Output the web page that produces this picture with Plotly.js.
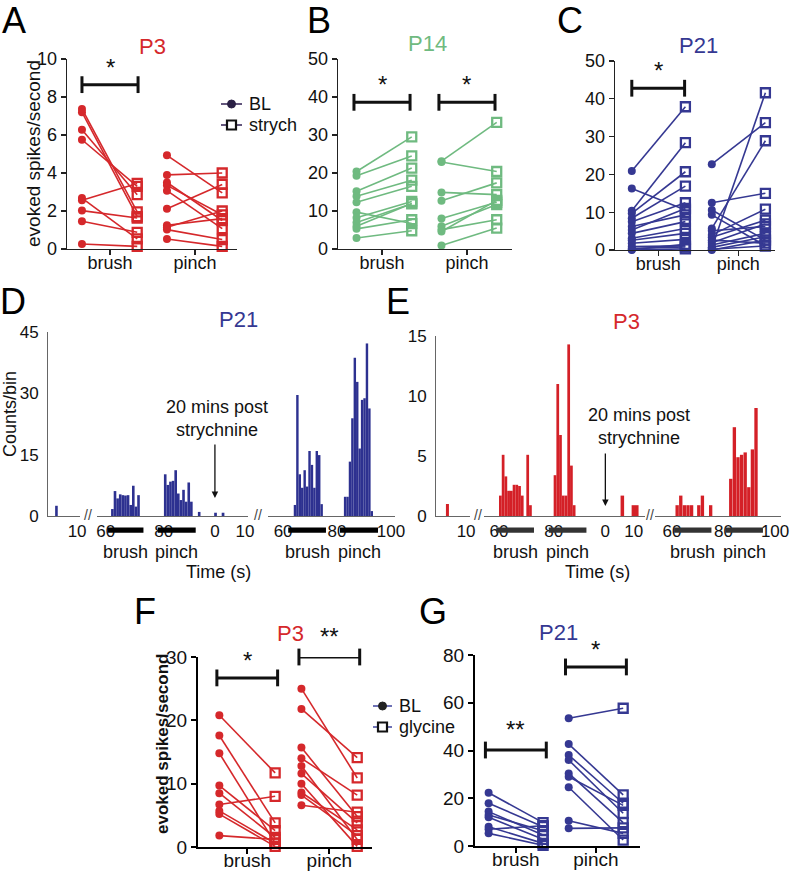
<!DOCTYPE html>
<html><head><meta charset="utf-8">
<script src="https://cdn.plot.ly/plotly-3.0.1.min.js"></script>
<style>html,body{margin:0;padding:0;background:#fff}</style>
</head><body><div id="chart" style="width:798px;height:874px"></div>
<script>
// ---------------- DATA ----------------
const conditions = ['brush', 'pinch'];

// Panel A: P3, baseline vs strychnine (evoked spikes/second)
const A_brushBL     = [7.37, 7.2, 6.28, 5.75, 2.68, 2.56, 2.02, 1.46, 0.26];
const A_brushStrych = [1.95, 1.7, 2.86, 3.3, 0.53, 3.45, 1.63, 0.88, 0.14];
const A_pinchBL     = [4.93, 3.9, 3.5, 3.35, 3.07, 2.12, 1.25, 1.15, 1.02, 0.53];
const A_pinchStrych = [2.95, 4.0, 1.5, 1.8, 1.07, 3.4, 1.6, 2.0, 0.5, 0.14];

// Panel B: P14
const B_brushBL     = [20.4, 19.3, 15.2, 13.9, 12.3, 9.7, 8.2, 7.0, 6.0, 5.3, 2.9];
const B_brushStrych = [29.5, 24.5, 21.3, 18.1, 16.5, 6.7, 12.5, 11.9, 12.0, 7.7, 4.8];
const B_pinchBL     = [23.1, 22.9, 14.9, 12.7, 8.0, 6.0, 5.1, 4.6, 0.9];
const B_pinchStrych = [33.3, 20.4, 14.3, 17.4, 12.3, 11.7, 7.7, 12.8, 5.5];

// Panel C: P21
const C_brushBL     = [20.9, 16.3, 10.4, 9.7, 8.4, 7.5, 6.2, 5.3, 4.4, 3.1, 2.6, 1.8, 0.9, 0.4, 0.1, 0];
const C_brushStrych = [37.9, 10.6, 28.4, 20.7, 16.9, 12.5, 9.3, 11.0, 7.5, 5.7, 4.4, 2.8, 1.1, 0.8, 1.5, 0.3];
const C_pinchBL     = [22.7, 0.5, 5.7, 12.5, 10.6, 9.3, 5.1, 4.0, 3.4, 2.6, 1.9, 1.3, 0.7, 0.2, 0];
const C_pinchStrych = [33.7, 41.6, 28.9, 15.0, 2.6, 1.1, 6.2, 10.8, 7.9, 1.8, 6.9, 4.4, 3.5, 1.1, 2.6];

// Panel F: P3, baseline vs glycine
const F_brushBL  = [20.8, 17.6, 14.8, 9.7, 8.5, 6.7, 5.7, 5.2, 1.8];
const F_brushGly = [11.7, 3.8, 0.6, 2.6, 1.5, 8.0, 0.6, 0.1, 1.2];
const F_pinchBL  = [25, 21.8, 15.7, 14, 12.8, 11.6, 10, 8.6, 8.2, 6.6];
const F_pinchGly = [10.9, 14.1, 4.8, 8.2, 1.2, 3.8, 0.1, 2.7, 1.8, 5.5];

// Panel G: P21, baseline vs glycine
const G_brushBL  = [22.3, 17.9, 14.4, 13.0, 12.0, 8.1, 7.0, 5.3];
const G_brushGly = [9.8, 8.1, 4.6, 6.4, 2.8, 1.1, 8.5, 0.3];
const G_pinchBL  = [53.5, 42.7, 38.1, 36.0, 30.4, 29.0, 24.6, 10.6, 7.4];
const G_pinchGly = [57.7, 21.4, 17.9, 13.7, 9.8, 17.0, 2.5, 5.3, 7.6];

// Significance brackets: condition index, bracket height, label
const A_sig = [{cond: 0, y: 8.65, text: '*'}];
const B_sig = [{cond: 0, y: 38.6, text: '*'}, {cond: 1, y: 38.6, text: '*'}];
const C_sig = [{cond: 0, y: 42.8, text: '*'}];
const F_sig = [{cond: 0, y: 26.7, text: '*'}, {cond: 1, y: 30, text: '**'}];
const G_sig = [{cond: 0, y: 40.2, text: '**'}, {cond: 1, y: 75, text: '*'}];

// Panel D: P21 PSTH (counts/bin), time in s
const D_preBase_t  = [2.9];
const D_preBase_n  = [2.5];
const D_preStim_t  = [62.3, 63.2, 64.1, 65.0, 65.9, 66.8, 67.7, 68.6, 69.5, 70.4, 71.3,
                      80.5, 81.4, 82.3, 83.2, 84.1, 85.0, 85.9, 86.8, 87.7, 88.6, 89.5, 92.2];
const D_preStim_n  = [1.7, 6.1, 4.3, 5.3, 5.1, 5.0, 5.1, 2.7, 7.4, 2.3, 5.1,
                      10.2, 7.6, 8.4, 8.6, 11.2, 5.5, 3.9, 6.4, 3.5, 8.2, 3.5, 1.0];
const D_postBase_t = [0.2, 2.7];
const D_postBase_n = [0.8, 0.8];
const D_postStim_t = [64.4, 65.3, 66.2, 67.1, 68.0, 68.9, 69.8, 70.7, 71.6, 72.5, 73.4, 74.3,
                      83.0, 83.9, 84.8, 85.7, 86.6, 87.5, 88.4, 89.3, 90.2, 91.1, 92.0, 92.9];
const D_postStim_n = [2.7, 29.6, 10.2, 6.9, 11.2, 7.2, 15.9, 12.5, 6.9, 15.9, 14.9, 2.9,
                      4.7, 4.7, 13.3, 23.9, 38.7, 32.8, 16.5, 28.4, 28.8, 42.2, 26.3, 1.2];
const D_preStimPeriods  = [{name: 'brush', t0: 60.7, t1: 73.0}, {name: 'pinch', t0: 77.9, t1: 91.0}];
const D_postStimPeriods = [{name: 'brush', t0: 61.9, t1: 75.9}, {name: 'pinch', t0: 81.1, t1: 95.2}];

// Panel E: P3 PSTH
const E_preBase_t  = [3.8];
const E_preBase_n  = [1.0];
const E_preStim_t  = [60.5, 61.5, 62.5, 63.5, 64.5, 65.5, 66.5, 67.5, 68.5, 69.5, 70.5, 71.5,
                      80.5, 81.5, 82.5, 83.5, 84.5, 85.5, 86.5, 87.5];
const E_preStim_n  = [1.7, 5.1, 3.3, 2.1, 2.1, 2.6, 2.6, 2.5, 1.7, 0, 5.1, 0.9,
                      3.4, 11.0, 6.75, 1.7, 1.7, 14.3, 4.2, 0.9];
const E_postBase_t = [6.0, 9.9, 11.1];
const E_postBase_n = [1.7, 0.9, 0.9];
const E_postStim_t = [62.0, 63.4, 64.8, 66.2, 67.6, 70.4, 71.8, 75.0,
                      82.8, 84.2, 85.6, 87.0, 88.4, 89.8, 91.2, 92.6];
const E_postStim_n = [0.9, 1.7, 0.9, 0.9, 0.9, 0.9, 1.7, 0.9,
                      3.1, 7.4, 4.9, 5.1, 5.3, 2.4, 5.55, 9.0];
const E_preStimPeriods  = [{name: 'brush', t0: 59.0, t1: 72.8}, {name: 'pinch', t0: 78.2, t1: 92.0}];
const E_postStimPeriods = [{name: 'brush', t0: 60.8, t1: 75.3}, {name: 'pinch', t0: 80.7, t1: 95.3}];

// ---------------- STYLE / LAYOUT ----------------
const W = 798, H = 874;
const FONT = '"Liberation Sans", Arial, Helvetica, sans-serif';
const RED = '#d5282b', GREEN = '#6fba80', BLUE = '#353892', HIST_BLUE = '#2d3190', HIST_RED = '#d42027';
const px = p => p / W;
const py = p => 1 - p / H;

const layout = {
  width: W, height: H, margin: {l: 0, r: 0, t: 0, b: 0},
  paper_bgcolor: '#fff', plot_bgcolor: 'rgba(0,0,0,0)',
  showlegend: false, barmode: 'overlay', hovermode: false,
  font: {family: FONT, size: 18, color: '#111'},
  annotations: [], shapes: []
};
const traces = [];

function ann(o) {
  layout.annotations.push(Object.assign({showarrow: false, xanchor: 'center', yanchor: 'middle',
    font: {family: FONT, size: 18, color: '#111'}}, o));
}

// category panels
function catPanel(cfg) {
  const n = cfg.n, xk = 'xaxis' + n, yk = 'yaxis' + n, xr = 'x' + n, yr = 'y' + n;
  layout[xk] = {
    domain: [px(cfg.xd[0]), px(cfg.xd[1])], range: cfg.xr, anchor: yr,
    tickmode: 'array', tickvals: [0, 1], ticktext: conditions,
    showline: true, linecolor: cfg.axc, linewidth: cfg.lw, ticks: 'outside', ticklen: 5,
    tickwidth: cfg.lw, tickcolor: cfg.axc, showgrid: false, zeroline: false, ticklabelstandoff: cfg.xso,
    tickfont: {family: FONT, size: cfg.fs, color: '#111'}, fixedrange: true
  };
  layout[yk] = {
    domain: [py(cfg.yd[1]), py(cfg.yd[0])], range: cfg.yr, anchor: xr,
    tick0: 0, dtick: cfg.dt, showline: true, linecolor: cfg.axc, linewidth: cfg.lw,
    ticks: 'outside', ticklen: 5, tickwidth: cfg.lw, tickcolor: cfg.axc,
    showgrid: false, zeroline: false, tickfont: {family: FONT, size: cfg.fs, color: '#111'}, fixedrange: true
  };
  const lx = [], ly = [], bx = [], by = [], dx = [], dy = [];
  cfg.bl.forEach((arr, ci) => {
    const dr = cfg.dr[ci];
    arr.forEach((v, i) => {
      lx.push(ci + cfg.off[0], ci + cfg.off[1], null); ly.push(v, dr[i], null);
      bx.push(ci + cfg.off[0]); by.push(v);
      dx.push(ci + cfg.off[1]); dy.push(dr[i]);
    });
  });
  traces.push({type: 'scatter', mode: 'lines', x: lx, y: ly, xaxis: xr, yaxis: yr,
    line: {color: cfg.color, width: 1.6}, cliponaxis: false, connectgaps: false});
  traces.push({type: 'scatter', mode: 'markers', x: bx, y: by, xaxis: xr, yaxis: yr,
    marker: {symbol: 'circle', size: 8, color: cfg.color}, cliponaxis: false});
  traces.push({type: 'scatter', mode: 'markers', x: dx, y: dy, xaxis: xr, yaxis: yr,
    marker: {symbol: 'square-open', size: 9, color: cfg.color, line: {width: 2.3, color: cfg.color}}, cliponaxis: false});
  cfg.sig.forEach(s => {
    traces.push({type: 'scatter', mode: 'lines+markers', x: [s.cond - cfg.bh, s.cond + cfg.bh], y: [s.y, s.y],
      xaxis: xr, yaxis: yr, line: {color: '#111', width: 3},
      marker: {symbol: 'line-ns', size: 12, color: '#111', line: {width: 3, color: '#111'}}, cliponaxis: false});
    ann({xref: xr, yref: yr, x: s.cond, y: s.y, text: s.text, yanchor: 'bottom',
      yshift: s.text.length > 1 ? 5 : 2, font: {family: FONT, size: 24, color: '#111'}});
  });
  ann({xref: 'paper', yref: 'paper', x: px(cfg.title[1]), y: py(cfg.title[2]), text: cfg.title[0],
    font: {family: FONT, size: 22, color: cfg.color}});
}

catPanel({n: 1, xd: [67, 237], yd: [59, 249], xr: [-0.506, 1.494], yr: [0, 10], dt: 2, fs: 18, lw: 1.3, axc: '#222', xso: -8,
  off: [-0.33, 0.32], bh: 0.33, color: RED, bl: [A_brushBL, A_pinchBL], dr: [A_brushStrych, A_pinchStrych], sig: A_sig, title: ['P3', 152, 47]});
catPanel({n: 2, xd: [338, 512], yd: [59, 249], xr: [-0.518, 1.53], yr: [0, 50], dt: 10, fs: 18, lw: 1.3, axc: '#222', xso: -8,
  off: [-0.3, 0.35], bh: 0.33, color: GREEN, bl: [B_brushBL, B_pinchBL], dr: [B_brushStrych, B_pinchStrych], sig: B_sig, title: ['P14', 427, 43]});
catPanel({n: 3, xd: [615, 775], yd: [61, 250], xr: [-0.54, 1.46], yr: [0, 50], dt: 10, fs: 18, lw: 1.3, axc: '#222', xso: -8,
  off: [-0.33, 0.34], bh: 0.33, color: BLUE, bl: [C_brushBL, C_pinchBL], dr: [C_brushStrych, C_pinchStrych], sig: C_sig, title: ['P21', 698, 45]});
catPanel({n: 4, xd: [198, 372], yd: [657, 847], xr: [-0.6, 1.52], yr: [0, 30], dt: 10, fs: 19, lw: 2, axc: '#000', xso: -10,
  off: [-0.34, 0.34], bh: 0.37, color: RED, bl: [F_brushBL, F_pinchBL], dr: [F_brushGly, F_pinchGly], sig: F_sig, title: ['P3', 290, 633]});
catPanel({n: 5, xd: [475, 640], yd: [655, 846], xr: [-0.51, 1.55], yr: [0, 80], dt: 20, fs: 19, lw: 2, axc: '#000', xso: -10,
  off: [-0.34, 0.34], bh: 0.38, color: BLUE, bl: [G_brushBL, G_pinchBL], dr: [G_brushGly, G_pinchGly], sig: G_sig, title: ['P21', 558, 632]});

// y titles
ann({xref: 'paper', yref: 'paper', x: px(33), y: py(154), text: 'evoked spikes/second', textangle: -90,
  font: {family: FONT, size: 19, color: '#111'}});
ann({xref: 'paper', yref: 'paper', x: px(162), y: py(744), text: '<b>evoked spikes/second</b>', textangle: -90,
  font: {family: FONT, size: 17, color: '#111'}});

// histogram panels with broken x axis
function histPanel(cfg) {
  const yr = 'y' + cfg.yn;
  layout['yaxis' + cfg.yn] = {
    domain: [py(cfg.yd[1]), py(cfg.yd[0])], range: cfg.yrange, anchor: 'x' + cfg.segs[0].n,
    tickmode: 'array', tickvals: cfg.ytv, showline: true, linecolor: '#666', linewidth: 1,
    ticks: '', ticklabelstandoff: 5, showgrid: false, zeroline: false,
    tickfont: {family: FONT, size: 17, color: '#111'}, fixedrange: true
  };
  cfg.segs.forEach(s => {
    layout['xaxis' + s.n] = {
      domain: [px(s.d[0]), px(s.d[1])], range: s.r, anchor: yr,
      tickmode: 'array', tickvals: s.tv, ticktext: s.tv.map(String),
      showline: true, linecolor: '#666', linewidth: 1, ticks: '', ticklabelstandoff: 0,
      showgrid: false, zeroline: false, tickfont: {family: FONT, size: 17, color: '#111'}, fixedrange: true
    };
    traces.push({type: 'bar', x: s.t, y: s.v, width: s.w, xaxis: 'x' + s.n, yaxis: yr,
      marker: {color: cfg.color, line: {width: 0}}});
    (s.stim || []).forEach(p => {
      layout.shapes.push({type: 'rect', xref: 'x' + s.n, yref: 'paper', x0: p.t0, x1: p.t1,
        y0: py(532.7), y1: py(527.5), fillcolor: cfg.stimColor, line: {width: 0}});
      ann({xref: 'x' + s.n, yref: 'paper', x: (p.t0 + p.t1) / 2, y: py(551.5), text: p.name,
        font: {family: FONT, size: 18, color: '#111'}});
    });
  });
  cfg.breaks.forEach(b => ann({xref: 'paper', yref: 'paper', x: px(b), y: py(cfg.yd[1] - 1), text: '//',
    font: {family: FONT, size: 14, color: '#444'}}));
  ann({xref: 'paper', yref: 'paper', x: px(cfg.time[0]), y: py(cfg.time[1]), text: 'Time (s)'});
  ann({xref: 'paper', yref: 'paper', x: px(cfg.note[0]), y: py(cfg.note[1]), text: '20 mins post<br>strychnine',
    font: {family: FONT, size: 18, color: '#111'}});
  ann({xref: 'x' + cfg.arrow.axis, yref: 'paper', x: 0, y: py(cfg.arrow.tip), text: '', showarrow: true,
    ax: 0, ay: -(cfg.arrow.tip - cfg.arrow.tail), arrowhead: 2, arrowsize: 1, arrowwidth: 1.3, arrowcolor: '#111'});
  ann({xref: 'paper', yref: 'paper', x: px(cfg.title[1]), y: py(cfg.title[2]), text: cfg.title[0],
    font: {family: FONT, size: 22, color: cfg.titleColor}});
}

histPanel({yn: 6, yd: [332, 516], yrange: [0, 45], ytv: [0, 15, 30, 45], color: HIST_BLUE, stimColor: '#000',
  segs: [
    {n: 6, d: [48, 80], r: [0, 11], tv: [10], t: D_preBase_t, v: D_preBase_n, w: 0.9},
    {n: 7, d: [97, 205], r: [57.0, 94.2], tv: [60, 80], t: D_preStim_t, v: D_preStim_n, w: 0.9, stim: D_preStimPeriods},
    {n: 8, d: [205, 248], r: [-3.3, 11], tv: [0, 10], t: D_postBase_t, v: D_postBase_n, w: 0.9},
    {n: 9, d: [268, 395], r: [54.4, 101.5], tv: [60, 80, 100], t: D_postStim_t, v: D_postStim_n, w: 0.9, stim: D_postStimPeriods}
  ],
  breaks: [88, 258], time: [218, 572], note: [217, 418], arrow: {axis: 8, tip: 498, tail: 443},
  title: ['P21', 238, 320], titleColor: BLUE});

histPanel({yn: 10, yd: [336, 516], yrange: [0, 15], ytv: [0, 5, 10, 15], color: HIST_RED, stimColor: '#333',
  segs: [
    {n: 10, d: [436, 470], r: [0, 11.3], tv: [10], t: E_preBase_t, v: E_preBase_n, w: 1.0},
    {n: 11, d: [484, 596], r: [54.5, 95.5], tv: [60, 80], t: E_preStim_t, v: E_preStim_n, w: 1.0, stim: E_preStimPeriods},
    {n: 12, d: [596, 645], r: [-3.3, 14.0], tv: [0, 10], t: E_postBase_t, v: E_postBase_n, w: 1.25},
    {n: 13, d: [655, 781], r: [53.4, 102.3], tv: [60, 80, 100], t: E_postStim_t, v: E_postStim_n, w: 1.3, stim: E_postStimPeriods}
  ],
  breaks: [478, 650], time: [597, 572], note: [639, 426], arrow: {axis: 12, tip: 506, tail: 452},
  title: ['P3', 626, 321], titleColor: RED});

ann({xref: 'paper', yref: 'paper', x: px(10), y: py(414), text: 'Counts/bin', textangle: -90});

// legends (drawn)
function legend(x0, x1, yRows, labels, lineColor, markColor) {
  const xc = (x0 + x1) / 2;
  yRows.forEach((yy, i) => {
    layout.shapes.push({type: 'line', xref: 'paper', yref: 'paper', x0: px(x0), x1: px(x1), y0: py(yy), y1: py(yy),
      line: {color: lineColor, width: 1.6}});
    if (i === 0) {
      layout.shapes.push({type: 'circle', xref: 'paper', yref: 'paper', x0: px(xc - 4), x1: px(xc + 4), y0: py(yy + 4), y1: py(yy - 4),
        fillcolor: markColor, line: {color: markColor, width: 1}});
    } else {
      layout.shapes.push({type: 'rect', xref: 'paper', yref: 'paper', x0: px(xc - 4.5), x1: px(xc + 4.5), y0: py(yy + 4.5), y1: py(yy - 4.5),
        fillcolor: '#fff', line: {color: '#111', width: 2.2}});
    }
    ann({xref: 'paper', yref: 'paper', x: px(x1 + 5), y: py(yy), xanchor: 'left', text: labels[i]});
  });
}
legend(221, 242, [104, 125], ['BL', 'strych'], '#3d2c5c', '#2a2045');
legend(373, 392, [706, 727], ['BL', 'glycine'], '#4a4fa3', '#222');

// panel letters
[['A', 14, 20], ['B', 319, 20], ['C', 570, 20], ['D', 13, 301], ['E', 398, 301], ['F', 145, 611], ['G', 433, 611]]
  .forEach(l => ann({xref: 'paper', yref: 'paper', x: px(l[1]), y: py(l[2]), text: l[0],
    font: {family: FONT, size: 36, color: '#000'}}));

Plotly.newPlot('chart', traces, layout, {staticPlot: true, displayModeBar: false});
</script></body></html>
